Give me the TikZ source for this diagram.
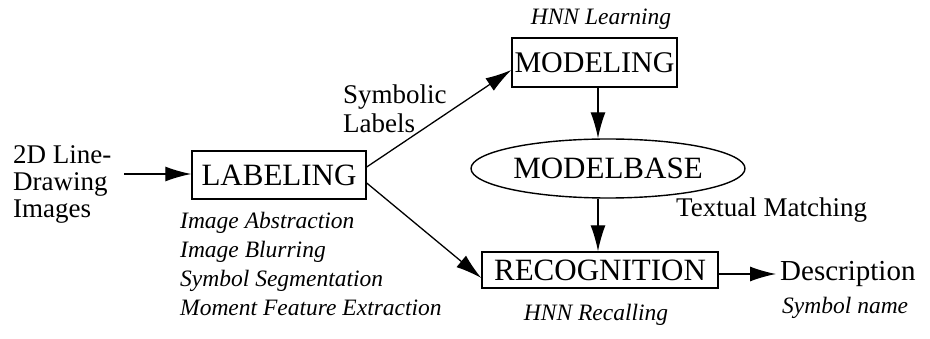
\documentclass[tikz,border=0pt]{standalone}
\usepackage{fontspec}
\setmainfont{Liberation Serif}
\usetikzlibrary{arrows.meta,shapes.geometric}
\begin{document}
\begin{tikzpicture}[x=1pt,y=-1pt,
  box/.style={draw,line width=1.4pt,inner sep=0pt,font=\fontsize{30}{30}\selectfont},
  lbl/.style={inner sep=0pt,anchor=base west,font=\fontsize{27}{27}\selectfont},
  note/.style={inner sep=0pt,font=\fontsize{23.5}{23.5}\selectfont\itshape},
  arr/.style={line width=1.3pt,-{Latex[length=26pt,width=15pt]}}]
\useasboundingbox (0,0) rectangle (930,339);
% boxes
\node[box,minimum width=174pt,minimum height=48pt,font=\fontsize{31}{31}\selectfont] (lab) at (279,175) {LABELING};
\node[box,minimum width=165pt,minimum height=49pt] (mod) at (594.5,62.5) {MODELING};
\node[box,ellipse,minimum width=274pt,minimum height=59pt,inner sep=0pt,font=\fontsize{31}{31}\selectfont] (mb) at (608,168.5) {MODELBASE};
\node[box,minimum width=236pt,minimum height=36pt,font=\fontsize{31}{31}\selectfont] (rec) at (600,270) {RECOGNITION};
% left input text
\node[lbl] (in1) at (13,164) {2D Line-};
\node[lbl] (in2) at (13,191) {Drawing};
\node[lbl] (in3) at (13,218) {Images};
\coordinate (inA) at (124,174);
% symbolic labels
\node[lbl] (sy1) at (343,104) {Symbolic};
\node[lbl] (sy2) at (343,133) {Labels};
% italic list
\node[note,anchor=base west] (it1) at (180,229) {Image Abstraction};
\node[note,anchor=base west] (it2) at (180,258) {Image Blurring};
\node[note,anchor=base west] (it3) at (180,287) {Symbol Segmentation};
\node[note,anchor=base west] (it4) at (180,316) {Moment Feature Extraction};
% other notes
\node[note,anchor=base] (hl) at (601,25) {HNN Learning};
\node[note,anchor=base] (hr) at (596,321) {HNN Recalling};
\node[lbl] (tm) at (676,217) {Textual Matching};
\node[lbl,font=\fontsize{29}{29}\selectfont] (desc) at (780,281) {Description};
\node[note,anchor=base west] (sn) at (782,314) {Symbol name};
% arrows
\coordinate (ax) at (598,0);
\coordinate (dEnd) at (776,274);
\draw[arr] (inA) -- (lab.west |- inA);
\draw[arr] ([yshift=8pt]lab.east) -- ([yshift=-7.5pt]mod.west);
\draw[arr] ([yshift=-8pt]lab.east) -- ([yshift=-8pt]rec.west);
\draw[arr] (mod.south -| ax) -- (ax |- mb.north);
\draw[arr] (ax |- mb.south) -- (ax |- rec.north);
\draw[arr] (rec.east |- dEnd) -- (dEnd);
\end{tikzpicture}
\end{document}
